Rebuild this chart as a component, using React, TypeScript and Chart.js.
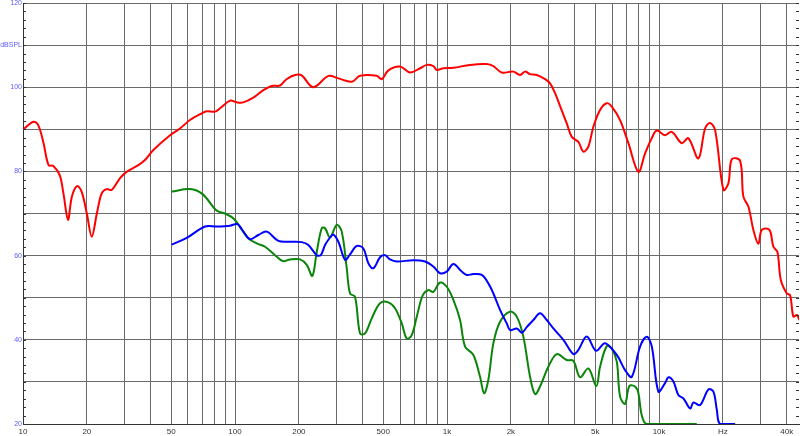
import React, { useEffect, useRef } from "react";
import { Chart, registerables } from "chart.js";

Chart.register(...registerables);

// Red response
const redFreq = [10, 11.2, 11.8, 12.5, 13.2, 13.9, 14.9, 15.5, 16.3, 17.0, 18.0, 18.9, 20.0, 21.1, 22.3, 23.5, 24.8, 26.2, 28.7, 30.8, 35.0, 37.6, 41.2, 49.4, 55.0, 61.3, 69.7, 73.5, 80.5, 85.0, 94.7, 101.9, 109.4, 122, 136, 149, 163, 175, 192, 206, 234, 276, 307, 355, 389, 466, 492, 529, 600, 669, 746, 802, 862, 894, 961, 1071, 1284, 1539, 1654, 1811, 2054, 2210, 2333, 2463, 2650, 2900, 3061, 3232, 3413, 3669, 3875, 4163, 4394, 4640, 4899, 5268, 5666, 5983, 6546, 7165, 7989, 8590, 9240, 9754, 10670, 11480, 12800, 13750, 15320, 16480, 17400, 18380, 20110, 21230, 22030, 24110, 24980, 26390, 27850, 29410, 30510, 33140, 34620, 36140, 37510, 40050, 41500, 43010, 44630, 45900];
const redDb = [89.9, 91.8, 91.0, 86.7, 81.5, 81.3, 79.1, 74.9, 68.5, 74.0, 76.5, 75.2, 70.0, 64.5, 70.0, 74.8, 75.8, 75.6, 78.4, 79.9, 81.5, 82.7, 85.1, 88.6, 90.2, 92.2, 93.8, 94.3, 94.2, 95.0, 96.8, 96.4, 96.4, 97.5, 99.3, 100.3, 100.4, 101.9, 102.9, 102.8, 100.0, 102.7, 102.1, 101.3, 102.7, 102.7, 101.9, 104.0, 104.9, 103.5, 104.5, 105.3, 105.0, 104.1, 104.5, 104.6, 105.3, 105.5, 105.0, 103.5, 103.7, 102.9, 103.7, 103.1, 102.9, 101.9, 100.9, 98.6, 95.5, 91.4, 88.2, 87.0, 84.7, 85.9, 90.6, 94.6, 96.2, 95.4, 92.2, 86.7, 79.9, 84.3, 87.9, 89.7, 88.6, 89.4, 86.7, 87.9, 83.1, 90.2, 91.5, 89.8, 75.6, 77.2, 82.9, 82.5, 74.0, 71.6, 66.1, 62.8, 66.1, 66.1, 62.1, 60.9, 54.2, 51.0, 50.6, 45.5, 45.9, 44.7];

// Blue response
const blueFreq = [50.3, 59.2, 72.2, 81.9, 94.7, 102.5, 107.5, 117.7, 128.8, 141.1, 160.1, 181.7, 206.3, 221.8, 242.8, 253.6, 265.8, 280.6, 290.9, 307.2, 330.3, 348.7, 375.1, 403, 425.5, 449.3, 483.1, 509.9, 538.5, 578.8, 693.4, 787.6, 861.8, 926.8, 996.8, 1071, 1173, 1238, 1331, 1458, 1566, 1654, 1778, 1912, 1983, 2132, 2251, 2376, 2553, 2746, 2953, 3172, 3537, 3943, 4163, 4560, 5045, 5563, 6317, 6913, 7432, 8137, 8750, 9240, 9924, 10670, 11070, 11680, 12330, 13020, 14010, 14520, 15610, 17090, 18040, 18720, 19400, 22830];
const blueDb = [62.6, 64.2, 66.9, 66.9, 67.1, 67.5, 66.3, 63.9, 64.9, 65.7, 63.5, 63.3, 63.2, 62.5, 60.1, 60.1, 62.5, 64.3, 65.0, 63.3, 59.0, 60.3, 62.3, 61.7, 58.2, 57.0, 59.6, 60.1, 59.1, 58.6, 58.9, 58.6, 57.4, 55.8, 56.2, 58.0, 56.2, 55.4, 55.6, 55.4, 53.4, 51.0, 47.1, 43.9, 42.3, 42.7, 41.7, 43.0, 44.7, 46.3, 44.7, 42.7, 40.0, 36.6, 37.6, 40.8, 37.4, 39.2, 36.4, 32.8, 31.2, 38.4, 40.7, 38.4, 27.7, 29.7, 31.1, 30.1, 26.9, 26.1, 23.7, 25.1, 24.5, 28.2, 27.7, 23.4, 20.0, 20.0];

// Green response
const greenFreq = [50.3, 61.3, 70.3, 81.9, 89.7, 98.9, 115.5, 126.6, 138.5, 154.4, 167.9, 181.7, 202.6, 217.9, 231.5, 242.8, 256.4, 265.8, 280.6, 301.8, 318.6, 336.4, 348.7, 368.1, 388.7, 410.4, 441.4, 483.1, 528.6, 568.4, 611.4, 645.5, 681.6, 719.7, 768.3, 816.3, 861.8, 926.8, 996.8, 1071, 1152, 1216, 1331, 1431, 1495, 1566, 1654, 1778, 1983, 2132, 2291, 2463, 2601, 2746, 3005, 3293, 3669, 3943, 4241, 4640, 5061, 5268, 5666, 5983, 6317, 6546, 6913, 7244, 7704, 7989, 8286, 8750, 15060];
const greenDb = [75.2, 75.8, 74.6, 70.7, 70.0, 68.7, 64.1, 62.9, 62.1, 60.1, 58.7, 59.1, 59.1, 57.8, 55.2, 60.8, 66.5, 66.5, 64.3, 67.3, 65.7, 57.0, 51.0, 50.2, 41.5, 41.5, 45.1, 48.7, 48.9, 47.5, 43.9, 40.3, 41.1, 45.5, 50.6, 51.8, 51.4, 53.6, 52.6, 49.5, 44.7, 38.4, 36.4, 31.2, 27.3, 30.5, 39.2, 44.3, 46.7, 45.5, 40.7, 31.2, 27.1, 28.9, 33.6, 36.6, 35.2, 35.0, 31.1, 33.2, 29.0, 33.6, 38.5, 37.9, 34.8, 26.5, 24.8, 29.0, 28.9, 27.3, 22.1, 20.0, 20.0];

const xTicks = [10, 20, 30, 40, 50, 60, 70, 80, 90, 100, 200, 300, 400, 500, 600, 700, 800, 900, 1000, 2000, 3000, 4000, 5000, 6000, 7000, 8000, 9000, 10000, 20000, 30000, 40000];
const xTickLabels: Record<number, string> = { 10: "10", 20: "20", 50: "50", 100: "100", 200: "200", 500: "500", 1000: "1k", 2000: "2k", 5000: "5k", 10000: "10k", 20000: "Hz", 40000: "40k" };
const yTickLabels: Record<number, string> = { 120: "120", 110: "dBSPL", 100: "100", 80: "80", 60: "60", 40: "40", 20: "20" };
const yMinorStep = 2;

const toPoints = (f: number[], d: number[]) => f.map((x, i) => ({ x, y: d[i] }));

const minorTicksPlugin = {
  id: "minorTicks",
  afterDraw(chart: any) {
    const { ctx, chartArea, scales } = chart;
    const y = scales.y;
    ctx.save();
    ctx.strokeStyle = "#333";
    ctx.lineWidth = 1;
    ctx.beginPath();
    for (let v = y.min; v <= y.max; v += yMinorStep) {
      const py = Math.round(y.getPixelForValue(v)) + 0.5;
      ctx.moveTo(chartArea.left, py);
      ctx.lineTo(chartArea.left + 3, py);
      ctx.moveTo(chartArea.right - 3, py);
      ctx.lineTo(chartArea.right, py);
    }
    ctx.stroke();
    ctx.restore();
  },
};

export default function App() {
  const ref = useRef<HTMLCanvasElement | null>(null);
  useEffect(() => {
    document.body.style.margin = "0";
    if (!ref.current) return;
    const common = { borderWidth: 2, pointRadius: 0, tension: 0.35, fill: false };
    const chart = new Chart(ref.current, {
      type: "line",
      data: {
        datasets: [
          { ...common, label: "blue", data: toPoints(blueFreq, blueDb), borderColor: "#0000ff" },
          { ...common, label: "green", data: toPoints(greenFreq, greenDb), borderColor: "#0a850a" },
          { ...common, label: "red", data: toPoints(redFreq, redDb), borderColor: "#ff0000" },
        ],
      },
      options: {
        animation: false,
        responsive: false,
        maintainAspectRatio: false,
        parsing: false as any,
        layout: { padding: { top: 3, right: 1, left: 0, bottom: 0 } },
        plugins: { legend: { display: false }, tooltip: { enabled: false } },
        scales: {
          x: {
            type: "logarithmic",
            min: 10,
            max: 45700,
            afterBuildTicks: (scale: any) => {
              scale.ticks = xTicks.map((v) => ({ value: v }));
            },
            afterFit: (scale: any) => {
              scale.height = 12;
              scale.paddingLeft = 0;
              scale.paddingRight = 0;
            },
            grid: { color: "#6a6a6a", lineWidth: 1, drawTicks: false },
            border: { display: true, color: "#333", width: 1 },
            ticks: {
              autoSkip: false,
              maxRotation: 0,
              padding: 3,
              color: "#333",
              font: { family: "Liberation Sans", size: 8 },
              callback: (v: any) => xTickLabels[Number(v)] ?? "",
            },
          },
          y: {
            type: "linear",
            min: 20,
            max: 120,
            afterFit: (scale: any) => {
              scale.width = 23;
              scale.paddingTop = 0;
              scale.paddingBottom = 0;
            },
            grid: { color: "#6a6a6a", lineWidth: 1, drawTicks: false },
            border: { display: true, color: "#333", width: 1 },
            ticks: {
              stepSize: 10,
              autoSkip: false,
              padding: 1,
              color: "#5b5bff",
              font: { family: "Liberation Sans", size: 7 },
              callback: (v: any) => yTickLabels[Number(v)] ?? "",
            },
          },
        },
      },
      plugins: [minorTicksPlugin],
    });
    return () => chart.destroy();
  }, []);
  return (
    <div style={{ width: 800, height: 436, background: "#fff" }}>
      <canvas ref={ref} width={800} height={436} style={{ display: "block", width: 800, height: 436 }} />
    </div>
  );
}
